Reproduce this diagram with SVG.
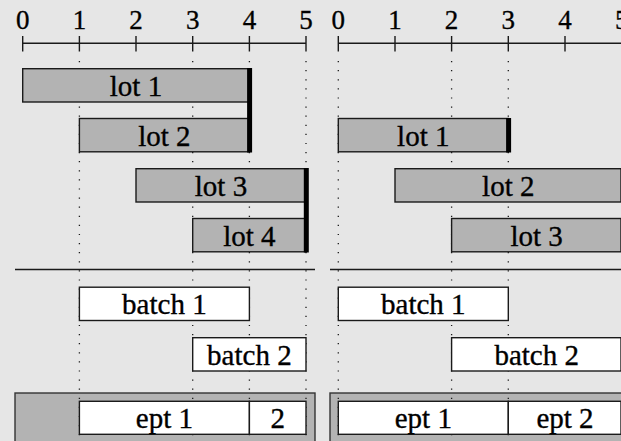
<svg xmlns="http://www.w3.org/2000/svg" width="621" height="441" viewBox="0 0 621 441">
  <style>
    .lot { fill: #b3b3b3; stroke: #1a1a1a; stroke-width: 1.4; }
    .box { fill: #ffffff; stroke: #1a1a1a; stroke-width: 1.4; }
    .frame { fill: #b3b3b3; stroke: #333333; stroke-width: 1.4; }
    .axis { stroke: #1a1a1a; stroke-width: 1.4; fill: none; }
    .guide { stroke: #1a1a1a; stroke-width: 1.3; stroke-dasharray: 1.2 7.9; fill: none; }
    .due { stroke: #000; stroke-width: 5; fill: none; }
    .sep { stroke: #1a1a1a; stroke-width: 1.4; fill: none; }
    text { stroke: #000; stroke-width: 0.35; }
  </style>

  <rect x="0" y="0" width="621" height="441" fill="#e6e6e6"/>

  <!-- equipment frames -->
  <g id="frame-left"><rect class="frame" x="15" y="393" width="300" height="60"/></g>
  <g id="frame-right"><rect class="frame" x="330" y="393" width="300" height="60"/></g>

  <g id="connectors">
    <!-- vertical time guides -->
    <line class="guide" x1="79.4" y1="61" x2="79.4" y2="441"/>
    <line class="guide" x1="192.7" y1="61" x2="192.7" y2="441"/>
    <line class="guide" x1="249.4" y1="61" x2="249.4" y2="441"/>
    <line class="guide" x1="306" y1="61" x2="306" y2="441"/>
    <line class="guide" x1="338.3" y1="61" x2="338.3" y2="441"/>
    <line class="guide" x1="451.6" y1="61" x2="451.6" y2="441"/>
    <line class="guide" x1="508.3" y1="61" x2="508.3" y2="441"/>

    <!-- time axes -->
    <path class="axis" d="M22.7 43.3 H306 M22.7 36 V51.5 M79.4 36 V51.5 M136 36 V51.5 M192.7 36 V51.5 M249.4 36 V51.5 M306 36 V51.5"/>
    <path class="axis" d="M338.3 43.3 H621 M338.3 36 V51.5 M395 36 V51.5 M451.6 36 V51.5 M508.3 36 V51.5 M565 36 V51.5 M621.7 36 V51.5"/>

    <!-- separators between lots and batches -->
    <line class="sep" x1="15" y1="269.5" x2="315" y2="269.5"/>
    <line class="sep" x1="330" y1="269.5" x2="621" y2="269.5"/>
  </g>

  <!-- axis labels -->
  <g id="axis-labels" font-family="Liberation Serif, serif" font-size="27" text-anchor="middle" fill="#000">
    <text x="22.7" y="28.5">0</text>
    <text x="79.4" y="28.5">1</text>
    <text x="136" y="28.5">2</text>
    <text x="192.7" y="28.5">3</text>
    <text x="249.4" y="28.5">4</text>
    <text x="306" y="28.5">5</text>
    <text x="338.3" y="28.5">0</text>
    <text x="395" y="28.5">1</text>
    <text x="451.6" y="28.5">2</text>
    <text x="508.3" y="28.5">3</text>
    <text x="565" y="28.5">4</text>
    <text x="621.7" y="28.5">5</text>
  </g>

  <g font-family="Liberation Serif, serif" font-size="29" text-anchor="middle" fill="#000">
    <!-- left schedule: lots -->
    <g id="l-lot1"><rect class="lot" x="22.7" y="68.7" width="226.7" height="33.3"/><text x="136" y="96">lot 1</text></g>
    <g id="l-lot2"><rect class="lot" x="79.4" y="118.5" width="170" height="33.3"/><text x="164.4" y="145.8">lot 2</text></g>
    <g id="l-lot3"><rect class="lot" x="136" y="168.7" width="170" height="33.3"/><text x="221" y="196">lot 3</text></g>
    <g id="l-lot4"><rect class="lot" x="192.7" y="218.5" width="113.3" height="33.3"/><text x="249.4" y="245.8">lot 4</text></g>
    <g id="l-due">
      <line class="due" x1="249.6" y1="68" x2="249.6" y2="152.5"/>
      <line class="due" x1="306.3" y1="168" x2="306.3" y2="252.5"/>
    </g>

    <!-- left schedule: batches and equipment -->
    <g id="l-batch1"><rect class="box" x="79.4" y="287.2" width="170" height="33.3"/><text x="164.4" y="314.3">batch 1</text></g>
    <g id="l-batch2"><rect class="box" x="192.7" y="337.7" width="113.3" height="33.3"/><text x="249.4" y="364.8">batch 2</text></g>
    <g id="l-ept1"><rect class="box" x="79.4" y="401.3" width="170" height="33"/><text x="164.4" y="428.3">ept 1</text></g>
    <g id="l-ept2"><rect class="box" x="249.4" y="401.3" width="56.6" height="33"/><text x="277.7" y="428.3">2</text></g>

    <!-- right schedule: lots -->
    <g id="r-lot1"><rect class="lot" x="338.3" y="118.5" width="170" height="33.3"/><text x="423.3" y="145.8">lot 1</text></g>
    <g id="r-lot2"><rect class="lot" x="395" y="168.7" width="226" height="33.3"/><text x="508.3" y="196">lot 2</text></g>
    <g id="r-lot3"><rect class="lot" x="451.6" y="218.5" width="169.4" height="33.3"/><text x="536.7" y="245.8">lot 3</text></g>
    <g id="r-due">
      <line class="due" x1="508.6" y1="118" x2="508.6" y2="152.5"/>
    </g>

    <!-- right schedule: batches and equipment -->
    <g id="r-batch1"><rect class="box" x="338.3" y="287.2" width="170" height="33.3"/><text x="423.3" y="314.3">batch 1</text></g>
    <g id="r-batch2"><rect class="box" x="451.6" y="337.7" width="169.4" height="33.3"/><text x="536.7" y="364.8">batch 2</text></g>
    <g id="r-ept1"><rect class="box" x="338.3" y="401.3" width="170" height="33"/><text x="423.3" y="428.3">ept 1</text></g>
    <g id="r-ept2"><rect class="box" x="508.3" y="401.3" width="112.7" height="33"/><text x="565" y="428.3">ept 2</text></g>
  </g>
</svg>
